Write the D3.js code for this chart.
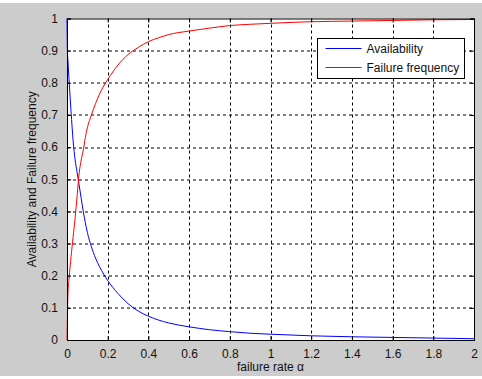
<!DOCTYPE html>
<html>
<head>
<meta charset="utf-8">
<script src="https://cdn.jsdelivr.net/npm/d3@7"></script>
<style>
  body { margin: 0; background: #fff; }
  text { font-family: "Liberation Sans", Arial, sans-serif; }
</style>
</head>
<body>
<div id="chart"></div>
<script>
// values
const alpha = [0, 0.002, 0.005, 0.01, 0.02, 0.03, 0.04, 0.05, 0.06, 0.07, 0.08, 0.09, 0.1, 0.12, 0.14, 0.16,
  0.18, 0.2, 0.25, 0.3, 0.35, 0.4, 0.45, 0.5, 0.6, 0.7, 0.8, 0.9, 1.0, 1.2, 1.4, 1.6, 1.8, 2.0];
const availability = [1.0, 0.9, 0.865, 0.81, 0.71, 0.62, 0.56, 0.52, 0.48, 0.44, 0.40, 0.365, 0.335, 0.29, 0.255, 0.228,
  0.205, 0.185, 0.145, 0.113, 0.09, 0.074, 0.062, 0.053, 0.041, 0.032, 0.026, 0.021, 0.018, 0.013, 0.010, 0.008, 0.006, 0.004];
const failureFreq = [0, 0.07, 0.15, 0.19, 0.26, 0.32, 0.38, 0.45, 0.52, 0.56, 0.59, 0.63, 0.66, 0.70, 0.735, 0.765,
  0.79, 0.81, 0.855, 0.888, 0.91, 0.928, 0.94, 0.95, 0.961, 0.97, 0.978, 0.982, 0.985, 0.99, 0.992, 0.994, 0.996, 0.997];
const xTicks = [0, 0.2, 0.4, 0.6, 0.8, 1, 1.2, 1.4, 1.6, 1.8, 2];
const yTicks = [0, 0.1, 0.2, 0.3, 0.4, 0.5, 0.6, 0.7, 0.8, 0.9, 1];
const seriesNames = ["Availability", "Failure frequency"];
const seriesColors = ["#0000ff", "#ff0000"];

const W = 482, H = 379;
const margin = { top: 18.5, right: 8, bottom: 39, left: 67 };
const width = W - margin.left - margin.right;
const height = H - margin.top - margin.bottom;

const root = d3.select("#chart").append("svg")
  .attr("width", W)
  .attr("height", H);

// figure background
root.append("rect")
  .attr("x", 0).attr("y", 3)
  .attr("width", W).attr("height", H - 6)
  .attr("fill", "#cccccc");

const svg = root.append("g")
  .attr("transform", `translate(${margin.left},${margin.top})`);

const x = d3.scaleLinear().domain([0, 2]).range([0, width]);
const y = d3.scaleLinear().domain([0, 1]).range([height, 0]);

svg.append("rect")
  .attr("width", width).attr("height", height)
  .attr("fill", "#fff");

// grid
svg.append("g").selectAll("line")
  .data(xTicks.slice(1, -1))
  .enter().append("line")
  .attr("x1", d => Math.round(x(d)) + 0.5).attr("x2", d => Math.round(x(d)) + 0.5)
  .attr("y1", 0).attr("y2", height)
  .attr("stroke", "#000").attr("stroke-dasharray", "3,3");

svg.append("g").selectAll("line")
  .data(yTicks.slice(1, -1))
  .enter().append("line")
  .attr("y1", d => Math.round(y(d)) + 0.5).attr("y2", d => Math.round(y(d)) + 0.5)
  .attr("x1", 0).attr("x2", width)
  .attr("stroke", "#000").attr("stroke-dasharray", "3,3");

// series
const series = [availability, failureFreq];
const line = d3.line()
  .x((d, i) => x(alpha[i]))
  .y(d => y(d))
  .curve(d3.curveMonotoneX);

svg.selectAll(".series")
  .data(series)
  .enter().append("path")
  .attr("class", "series")
  .attr("d", d => line(d))
  .attr("fill", "none")
  .attr("stroke", (d, i) => seriesColors[i])
  .attr("stroke-width", 1);

// axes (MATLAB style: ticks inward, on all sides)
const tickLen = -4;
svg.append("g")
  .attr("transform", `translate(0,${height})`)
  .call(d3.axisBottom(x).tickValues(xTicks).tickSize(tickLen).tickPadding(9).tickFormat(d3.format("~g")));
svg.append("g")
  .call(d3.axisTop(x).tickValues(xTicks).tickSize(tickLen).tickFormat(""));
svg.append("g")
  .call(d3.axisLeft(y).tickValues(yTicks).tickSize(tickLen).tickPadding(9).tickFormat(d3.format("~g")));
svg.append("g")
  .attr("transform", `translate(${width},0)`)
  .call(d3.axisRight(y).tickValues(yTicks).tickSize(tickLen).tickFormat(""));

svg.selectAll(".domain").attr("stroke", "#000");
svg.selectAll(".tick line").attr("stroke", "#000");
svg.selectAll(".tick text")
  .style("font-size", "12px")
  .attr("fill", "#111");

// labels
svg.append("text")
  .attr("x", width / 2)
  .attr("y", height + 31)
  .style("text-anchor", "middle")
  .style("font-size", "12px")
  .attr("fill", "#111")
  .text("failure rate α");

svg.append("text")
  .attr("transform", `translate(-31,${height / 2}) rotate(-90)`)
  .style("text-anchor", "middle")
  .style("font-size", "12px")
  .attr("fill", "#111")
  .text("Availability and Failure frequency");

// legend
const legend = svg.append("g")
  .attr("transform", `translate(${317.5 - margin.left},${38.5 - margin.top})`);
legend.append("rect")
  .attr("width", 147).attr("height", 40)
  .attr("fill", "#fff").attr("stroke", "#000");
seriesNames.forEach((name, i) => {
  const ly = 10 + i * 19;
  legend.append("line")
    .attr("x1", 8).attr("x2", 44)
    .attr("y1", ly).attr("y2", ly)
    .attr("stroke", seriesColors[i]);
  legend.append("text")
    .attr("x", 49).attr("y", ly + 4)
    .style("font-size", "12px")
    .attr("fill", "#111")
    .text(name);
});
</script>
</body>
</html>
